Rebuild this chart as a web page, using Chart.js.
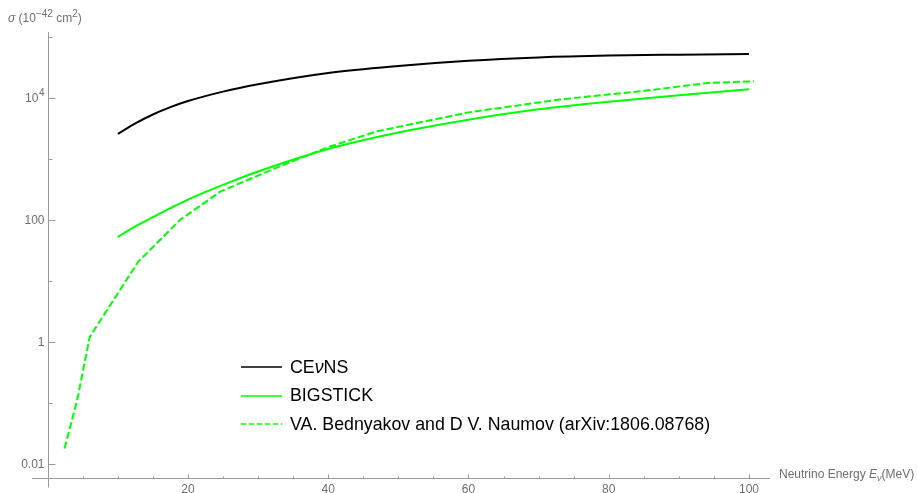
<!DOCTYPE html>
<html>
<head>
<meta charset="utf-8">
<script src="https://cdn.jsdelivr.net/npm/chart.js@4.4.1/dist/chart.umd.min.js"></script>
<style>
    body { margin: 0; background: #fff; }
    #wrap { position: relative; width: 917px; height: 493px; font-family: "Liberation Sans", Arial, sans-serif; }
    #chart { position: absolute; left: 0; top: 0; }
    .title { position: absolute; font-size: 12px; color: #6e6e6e; white-space: nowrap; line-height: 14px; }
    .title sup { font-size: 10px; vertical-align: 5px; line-height: 0; }
    .title sub { font-size: 9px; vertical-align: -3px; line-height: 0; }
    #y-title { left: 8px; top: 11px; }
    #x-title { left: 779px; top: 467px; }
    #legend { position: absolute; left: 241px; top: 353px; font-size: 17.8px; color: #000; }
    .row { height: 28.5px; display: flex; align-items: center; white-space: nowrap; }
    .row svg { margin-right: 8px; }
</style>
</head>
<body>
<div id="wrap">
    <canvas id="chart" width="917" height="493"></canvas>
    <div class="title" id="y-title"><i>σ</i> (10<sup>−42</sup> cm<sup>2</sup>)</div>
    <div class="title" id="x-title">Neutrino Energy <i>E</i><sub><i>ν</i></sub>(MeV)</div>
    <div id="legend"></div>
</div>
<script>
/* ---------- Data ---------- */
const seriesNames = ["CEνNS", "BIGSTICK", "VA. Bednyakov and D V. Naumov (arXiv:1806.08768)"];

// energy grid for the two smooth curves (MeV)
const energyGrid = [10, 12.5, 15, 17.5, 20, 25, 30, 40, 50, 60, 70, 80, 90, 100];
// cross sections in 10^-42 cm^2
const cevnsSigma = [2540, 3800, 5310, 7000, 8810, 12590, 16600, 25400, 33100, 40300, 45700, 49000, 50700, 52000];
const bigstickSigma = [52, 77.6, 110, 155, 214, 372, 617, 1445, 2690, 4365, 6460, 8610, 10960, 13800];

// Bednyakov & Naumov points (piecewise line)
const bednyakovEnergy = [2.4, 4.2, 6.0, 12.9, 18.9, 24.6, 33, 40, 47, 60, 73, 85, 94, 100.7];
const bednyakovSigma = [0.0178, 0.11, 1.2, 20.4, 100, 288, 741, 1550, 2820, 5750, 9330, 12900, 17400, 18600];

// ticks
const xMajorTicks = [20, 40, 60, 80, 100];
const xMinorTicks = [5, 10, 15, 25, 30, 35, 45, 50, 55, 65, 70, 75, 85, 90, 95];
const yMajorTicks = [0.01, 1, 100, 10000];
const yTickLabels = ["0.01", "1", "100", "10^4"];
const yMinorTicks = [0.1, 10, 1000, 100000];

const GREEN = "#00ff00";

/* ---------- Axes drawn Mathematica style ---------- */
const mathAxes = {
    id: "mathAxes",
    beforeDatasetsDraw(chart) {
        const { ctx, chartArea, scales: { x, y } } = chart;
        const x0 = Math.round(x.getPixelForValue(0)) + 0.5;
        const yb = Math.round(chartArea.bottom) + 0.5;

        ctx.save();
        ctx.strokeStyle = "#999";
        ctx.lineWidth = 1;
        ctx.beginPath();
        ctx.moveTo(chartArea.left, yb);
        ctx.lineTo(chartArea.right, yb);
        ctx.moveTo(x0, chartArea.top);
        ctx.lineTo(x0, yb + 9);

        // x ticks point up
        xMajorTicks.forEach(v => {
            const px = Math.round(x.getPixelForValue(v)) + 0.5;
            ctx.moveTo(px, yb);
            ctx.lineTo(px, yb - 4);
        });
        xMinorTicks.forEach(v => {
            const px = Math.round(x.getPixelForValue(v)) + 0.5;
            ctx.moveTo(px, yb);
            ctx.lineTo(px, yb - 2);
        });
        // y ticks point right
        yMajorTicks.forEach(v => {
            const py = Math.round(y.getPixelForValue(v)) + 0.5;
            ctx.moveTo(x0, py);
            ctx.lineTo(x0 + 7, py);
        });
        yMinorTicks.forEach(v => {
            const py = Math.round(y.getPixelForValue(v)) + 0.5;
            ctx.moveTo(x0, py);
            ctx.lineTo(x0 + 4, py);
        });
        ctx.stroke();

        // labels
        ctx.fillStyle = "#6e6e6e";
        ctx.font = '12px "Liberation Sans", Arial, sans-serif';
        ctx.textAlign = "center";
        ctx.textBaseline = "middle";
        xMajorTicks.forEach(v => {
            ctx.fillText(String(v), x.getPixelForValue(v), yb + 11);
        });

        ctx.textAlign = "right";
        const right = x0 - 4;
        yMajorTicks.forEach((v, i) => {
            const py = y.getPixelForValue(v);
            const parts = yTickLabels[i].split("^");
            if (parts.length === 2) {
                ctx.font = '10px "Liberation Sans", Arial, sans-serif';
                const w = ctx.measureText(parts[1]).width;
                ctx.fillText(parts[1], right, py - 4);
                ctx.font = '12px "Liberation Sans", Arial, sans-serif';
                ctx.fillText(parts[0], right - w - 0.5, py + 1);
            } else {
                ctx.fillText(parts[0], right, py + 1);
            }
        });
        ctx.restore();
    }
};

/* ---------- Chart ---------- */
const toPoints = (xs, ys) => xs.map((e, i) => ({ x: e, y: ys[i] }));

const ctx = document.getElementById("chart").getContext("2d");
const chart = new Chart(ctx, {
    type: "line",
    data: {
        datasets: [
            {
                label: seriesNames[0],
                data: toPoints(energyGrid, cevnsSigma),
                borderColor: "#000",
                borderWidth: 2,
                pointRadius: 0,
                cubicInterpolationMode: "monotone"
            },
            {
                label: seriesNames[1],
                data: toPoints(energyGrid, bigstickSigma),
                borderColor: GREEN,
                borderWidth: 2,
                pointRadius: 0,
                cubicInterpolationMode: "monotone"
            },
            {
                label: seriesNames[2],
                data: toPoints(bednyakovEnergy, bednyakovSigma),
                borderColor: GREEN,
                borderWidth: 2,
                borderDash: [7, 3],
                pointRadius: 0,
                tension: 0
            }
        ]
    },
    options: {
        responsive: false,
        animation: false,
        layout: { padding: { left: 32, right: 147, top: 32, bottom: 15 } },
        scales: {
            x: { type: "linear", min: -2.24, max: 103, display: false },
            y: { type: "logarithmic", min: Math.pow(10, -2.234), max: Math.pow(10, 5.077), display: false }
        },
        plugins: { legend: { display: false }, tooltip: { enabled: false } }
    },
    plugins: [mathAxes]
});

/* ---------- Legend ---------- */
const legend = document.getElementById("legend");
chart.data.datasets.forEach(ds => {
    const row = document.createElement("div");
    row.className = "row";
    const dash = ds.borderDash ? 'stroke-dasharray="5 3"' : "";
    const name = ds.label.replace("ν", "<i>ν</i>");
    row.innerHTML = `<svg width="41" height="4"><line x1="0" y1="2" x2="41" y2="2" stroke="${ds.borderColor}" stroke-width="1.5" ${dash}/></svg>${name}`;
    legend.appendChild(row);
});
</script>
</body>
</html>
